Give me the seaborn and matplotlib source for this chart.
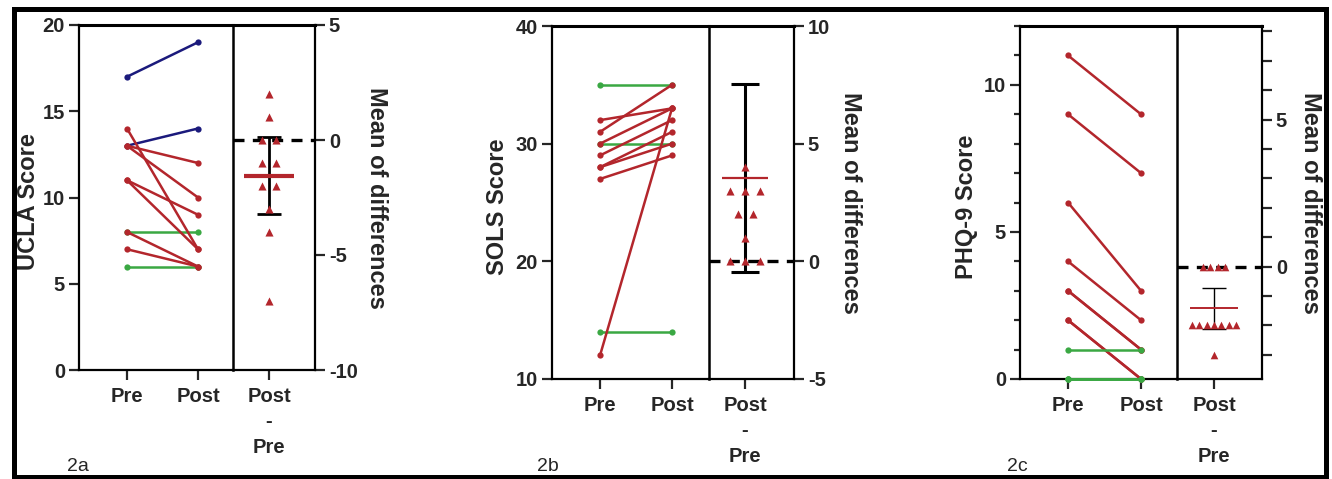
import numpy as np
import pandas as pd
import matplotlib
matplotlib.use("Agg")
import matplotlib.pyplot as plt
import seaborn as sns
from matplotlib import font_manager
from matplotlib.patches import Rectangle

# ---- data ----
ucla_pre = [17, 13, 8, 6, 14, 13, 13, 11, 11, 8, 7]
ucla_post = [19, 14, 8, 6, 7, 12, 10, 9, 7, 6, 6]
ucla_group = ["rise", "rise", "same", "same", "change", "change", "change",
              "change", "change", "change", "change"]

sols_pre = [35, 30, 14, 32, 31, 30, 29, 28, 28, 27, 12]
sols_post = [35, 30, 14, 33, 35, 33, 32, 31, 30, 29, 33]
sols_group = ["same", "same", "same", "change", "change", "change", "change",
              "change", "change", "change", "change"]

phq_pre = [11, 9, 6, 4, 3, 3, 2, 2, 1, 0, 0, 0]
phq_post = [9, 7, 3, 2, 1, 1, 0, 0, 1, 0, 0, 0]
phq_group = ["change", "change", "change", "change", "change", "change",
             "change", "change", "same", "same", "same", "same"]

time_labels = ["Pre", "Post"]
diff_label = "Post\n-\nPre"
score_labels = ["UCLA Score", "SOLS Score", "PHQ-9 Score"]
panel_tags = ["2a", "2b", "2c"]

# t critical values (95%, two sided) by degrees of freedom
t95 = {10: 2.228, 11: 2.201}

RED = "#b3262c"
palette = {"change": RED, "same": "#3aa843", "rise": "#1b1a7c"}


def has_font(name):
    try:
        font_manager.findfont(name, fallback_to_default=False)
        return True
    except Exception:
        return False


sns.set_style("ticks")
narrow = "Liberation Sans Narrow" if has_font("Liberation Sans Narrow") else "Liberation Sans"
plt.rcParams["font.family"] = [narrow, "Liberation Sans", "DejaVu Sans"]
plt.rcParams["axes.linewidth"] = 1.6

W, H = 1332, 479
fig = plt.figure(figsize=(W / 100, H / 100), dpi=100)


def box(x0, x1, y0, y1):
    return [x0 / W, 1 - y1 / H, (x1 - x0) / W, (y1 - y0) / H]


# layout in pixels: left spine, separator, right spine, top, bottom, pre tick x, post tick x, diff tick x
layout = [
    dict(x=(79, 233, 315), y=(25, 370), pre=127, post=198, dx=269,
         ylim=(0, 20), yticks=[0, 5, 10, 15, 20], yminor=None,
         rlim=(-10, 5), rticks=[-10, -5, 0, 5], rminor=None,
         ylab_x=29, rlab_x=377, tag_x=78,
         mean_lw=3.0, err_lw=2.0, cap=8.5, mean_half=25, step=14, ms=34),
    dict(x=(552, 709, 794), y=(26, 379), pre=600, post=672, dx=745,
         ylim=(10, 40), yticks=[10, 20, 30, 40], yminor=None,
         rlim=(-5, 10), rticks=[-5, 0, 5, 10], rminor=None,
         ylab_x=497, rlab_x=851, tag_x=548,
         mean_lw=1.6, err_lw=2.2, cap=10, mean_half=23, step=15, ms=34),
    dict(x=(1020, 1177, 1262), y=(26, 379), pre=1068, post=1141, dx=1214,
         ylim=(0, 12), yticks=[0, 5, 10], yminor=np.arange(0, 13),
         rlim=(-3.82, 8.18), rticks=[0, 5], rminor=np.arange(-3, 9),
         ylab_x=967, rlab_x=1310, tag_x=1017,
         mean_lw=1.4, err_lw=1.0, cap=8.5, mean_half=24, step=7.3, ms=30),
]

datasets = [(ucla_pre, ucla_post, ucla_group),
            (sols_pre, sols_post, sols_group),
            (phq_pre, phq_post, phq_group)]

tick_font = dict(fontsize=14.5, fontweight="bold")

for i, ((pre, post, grp), L) in enumerate(zip(datasets, layout)):
    xl, xs, xr = L["x"]
    yt, yb = L["y"]
    ax2 = fig.add_axes(box(xs, xr, yt, yb))
    ax = fig.add_axes(box(xl, xs, yt, yb))
    ax.patch.set_visible(False)
    ax2.patch.set_visible(False)

    # --- paired lines ---
    n = len(pre)
    df = pd.DataFrame({
        "subject": list(range(n)) * 2,
        "time": [0] * n + [1] * n,
        "score": list(pre) + list(post),
        "group": list(grp) * 2,
    })
    sns.lineplot(data=df, x="time", y="score", hue="group", units="subject",
                 estimator=None, palette=palette, marker="o", markersize=4.5,
                 markeredgewidth=0, linewidth=1.8, legend=False, ax=ax,
                 sort=False, clip_on=False, zorder=3)

    unit = L["post"] - L["pre"]
    ax.set_xlim(-(L["pre"] - xl) / unit, (xs - L["pre"]) / unit)
    ax.set_ylim(*L["ylim"])
    ax.set_xticks([0, 1])
    ax.set_xticklabels(time_labels, **tick_font)
    ax.set_yticks(L["yticks"])
    ax.set_yticklabels([str(v) for v in L["yticks"]], **tick_font)
    if L["yminor"] is not None:
        ax.set_yticks(L["yminor"], minor=True)
        ax.tick_params(axis="y", which="minor", length=4.5, width=1.6)
    ax.tick_params(axis="both", which="major", length=7, width=1.6, pad=3)
    ax.tick_params(axis="x", pad=5)
    ax.set_xlabel("")
    ax.set_ylabel("")
    for s in ["left", "top", "bottom", "right"]:
        ax.spines[s].set_visible(True)
        ax.spines[s].set_color("black")
    ax.spines["top"].set_linewidth(2.2)
    ax.spines["right"].set_linewidth(1.8)

    # --- differences ---
    diffs = np.array(post) - np.array(pre)
    runit = unit
    ax2.set_xlim(-(L["dx"] - xs) / runit, (xr - L["dx"]) / runit)
    ax2.set_ylim(*L["rlim"])
    ax2.axhline(0, color="black", lw=2.4, ls=(0, (3.3, 2.5)), zorder=2)

    # symmetric spread of tied values
    offsets = np.zeros(n)
    step = L["step"] / runit
    for v in np.unique(diffs):
        idx = np.where(diffs == v)[0]
        k = len(idx)
        offsets[idx] = (np.arange(k) - (k - 1) / 2) * step
    sns.scatterplot(x=offsets, y=diffs, marker="^", s=L["ms"], color=RED,
                    linewidth=0, ax=ax2, zorder=4, legend=False)

    m = diffs.mean()
    half = t95[n - 1] * diffs.std(ddof=1) / np.sqrt(n)
    ax2.errorbar(0, m, yerr=half, fmt="none", ecolor="black",
                 elinewidth=L["err_lw"], capsize=L["cap"], capthick=L["err_lw"],
                 zorder=3)
    hw = L["mean_half"] / runit
    ax2.hlines(m, -hw, hw, color=RED, lw=L["mean_lw"], zorder=5)

    ax2.yaxis.tick_right()
    ax2.set_xticks([0])
    ax2.set_xticklabels([diff_label], linespacing=1.45, **tick_font)
    ax2.set_yticks(L["rticks"])
    ax2.set_yticklabels([str(v) for v in L["rticks"]], **tick_font)
    if L["rminor"] is not None:
        ax2.set_yticks(L["rminor"], minor=True)
        ax2.tick_params(axis="y", which="minor", length=7, width=1.6,
                        right=True, left=False)
    ax2.tick_params(axis="both", which="major", length=7, width=1.6, pad=3)
    ax2.tick_params(axis="x", pad=5)
    ax2.spines["left"].set_visible(False)
    for s in ["top", "bottom", "right"]:
        ax2.spines[s].set_visible(True)
        ax2.spines[s].set_color("black")
    ax2.spines["top"].set_linewidth(2.2)
    ax2.set_xlabel("")
    ax2.set_ylabel("")

    yc = 1 - ((yt + yb) / 2 + 4) / H
    fig.text(L["ylab_x"] / W, yc, score_labels[i], rotation=90,
             ha="center", va="center", fontsize=17, fontweight="bold",
             family=["Liberation Sans", "DejaVu Sans"])
    fig.text(L["rlab_x"] / W, 1 - ((yt + yb) / 2) / H, "Mean of differences",
             rotation=270, ha="center", va="center", fontsize=17,
             fontweight="bold", family=["Liberation Sans", "DejaVu Sans"])
    fig.text(L["tag_x"] / W, 1 - 471 / H, panel_tags[i], ha="center",
             va="baseline", fontsize=14)

# outer frame
fig.patches.append(Rectangle((14 / W, 1 - 477 / H), (1326 - 14) / W,
                             (477 - 9) / H, transform=fig.transFigure,
                             fill=False, edgecolor="black", lw=3.6))

fig.savefig("out.png", dpi=100)
